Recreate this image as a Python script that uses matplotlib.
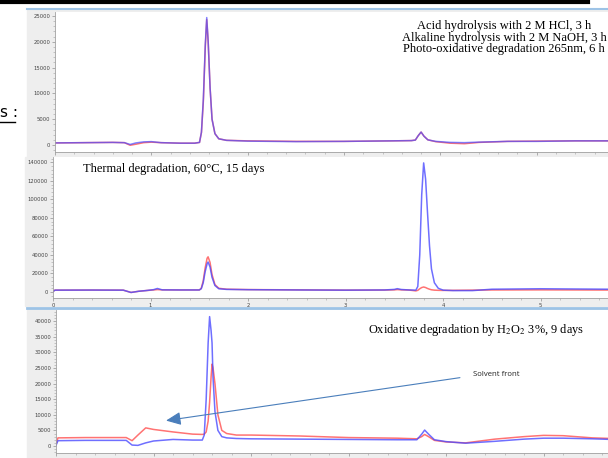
import matplotlib
matplotlib.use("Agg")
import matplotlib.pyplot as plt
from matplotlib.patches import Rectangle
from matplotlib.lines import Line2D
from matplotlib.ticker import MultipleLocator, AutoMinorLocator

W, H = 608, 458

# Panel 1: acid / alkaline / photo-oxidative
t1 = [0.0, 0.3, 0.6, 0.72, 0.78, 0.84, 0.92, 1.0, 1.1, 1.3, 1.45, 1.50, 1.52, 1.54, 1.56,
      1.575, 1.59, 1.61, 1.63, 1.66, 1.70, 1.78, 2.0, 2.5, 3.0, 3.5, 3.70, 3.74, 3.77, 3.80,
      3.83, 3.87, 3.95, 4.1, 4.25, 4.4, 4.7, 5.0, 5.4, 5.75]
blue1 = [400, 450, 500, 450, 100, 400, 600, 650, 450, 350, 350, 500, 2500, 9000, 19500,
         24700, 20000, 11000, 5000, 2200, 1200, 900, 750, 650, 700, 800, 850, 950, 1800, 2500,
         1700, 1000, 700, 500, 450, 550, 700, 700, 800, 800]
red1 = [400, 450, 500, 450, -50, 150, 450, 550, 450, 350, 350, 500, 2400, 8500, 19000,
        24300, 20000, 11000, 5000, 2200, 1200, 900, 800, 700, 700, 800, 850, 950, 1800, 2500,
        1700, 1000, 650, 350, 250, 500, 700, 750, 800, 800]

# Panel 2: thermal degradation
t2 = [0.0, 0.02, 0.4, 0.72, 0.80, 0.88, 0.95, 1.03, 1.07, 1.12, 1.3, 1.5, 1.52, 1.54, 1.56,
      1.58, 1.59, 1.61, 1.63, 1.66, 1.70, 1.78, 2.0, 2.5, 3.0, 3.4, 3.5, 3.53, 3.57, 3.65,
      3.72, 3.74, 3.76, 3.78, 3.80, 3.82, 3.84, 3.86, 3.88, 3.91, 3.95, 4.0, 4.1, 4.3, 4.5,
      5.0, 5.4, 5.7]
blue2 = [500, 2000, 2100, 2000, -500, 800, 1500, 2500, 3800, 2300, 2200, 2200, 3500, 10000, 22000,
         30500, 32400, 27000, 16000, 7000, 3500, 2800, 2500, 2200, 2000, 2200, 2800, 3600, 2700, 2200,
         2000, 6000, 40000, 105000, 139500, 122000, 85000, 50000, 25000, 10000, 4000, 2000, 1500, 1500, 3000,
         3500, 3200, 3000]
red2 = [500, 2000, 2100, 2000, -500, 800, 1500, 2200, 2600, 2300, 2200, 2200, 4000, 12000, 26000,
        36500, 38000, 32000, 19000, 8000, 4000, 3000, 2600, 2300, 2000, 2100, 2300, 2600, 2300, 2100,
        1200, 1800, 3500, 4800, 5400, 4800, 3800, 3000, 2400, 2000, 1800, 1700, 1800, 2000, 2200,
        2300, 2200, 2100]

# Panel 3: oxidative degradation (H2O2)
t3 = [0.0, 0.02, 0.3, 0.72, 0.78, 0.84, 0.92, 1.0, 1.2, 1.4, 1.5, 1.52, 1.54, 1.56, 1.575,
      1.59, 1.60, 1.61, 1.63, 1.66, 1.70, 1.75, 1.85, 2.0, 2.5, 3.0, 3.5, 3.70, 3.75, 3.78,
      3.82, 3.88, 4.0, 4.2, 4.5, 4.8, 5.0, 5.2, 5.5, 5.7]
blue3 = [200, 1700, 1800, 1800, 300, 200, 1000, 1600, 2100, 1900, 1900, 3500, 15000, 33000, 41400,
         37000, 33000, 22000, 11000, 5000, 3000, 2600, 2400, 2300, 2200, 2100, 2000, 2000, 3800, 5100,
         3800, 2000, 1400, 900, 1500, 2200, 2500, 2500, 2300, 2100]
red3 = [500, 2600, 2700, 2700, 1700, 3500, 5800, 5300, 4500, 3800, 3700, 3800, 4500, 8000, 14000,
        22000, 26200, 25000, 20000, 10000, 5000, 4000, 3500, 3500, 3200, 2700, 2500, 2300, 3000, 3700,
        3000, 1800, 1300, 1000, 2200, 3000, 3400, 3300, 2600, 2400]

BLUE = "#4b4bff"
RED = "#ff5a5a"

fig = plt.figure(figsize=(W / 100, H / 100), dpi=100)


def px_rect(x0, y0, x1, y1, **kw):
    fig.add_artist(Rectangle((x0 / W, 1 - y1 / H), (x1 - x0) / W, (y1 - y0) / H,
                             transform=fig.transFigure, **kw))


def px_line(x0, y0, x1, y1, **kw):
    fig.add_artist(Line2D([x0 / W, x1 / W], [1 - y0 / H, 1 - y1 / H],
                          transform=fig.transFigure, **kw))


# grey frames of the pasted chromatogram screenshots
px_rect(27, 10, 608, 160, color="#eeeeee", zorder=0)
px_rect(25, 157, 608, 306, color="#eeeeee", zorder=0)
px_rect(27, 309, 608, 458, color="#eeeeee", zorder=0)
px_line(27, 9, 608, 9, color="#9dc3e6", lw=1.5)
px_line(27, 307.5, 608, 307.5, color="#9dc3e6", lw=2)
px_line(0, 1.5, 588, 1.5, color="black", lw=3)

# leftover heading from the document
fig.text(0 / W, 1 - 117 / H, "s :", fontsize=11, color="black", ha="left", va="baseline")
px_line(0, 122, 15, 122, color="black", lw=1)


def make_axes(left, top, bottom, xlim, ylim, step):
    ax = fig.add_axes([left / W, 1 - bottom / H, (W - left) / W, (bottom - top) / H])
    ax.set_facecolor("white")
    ax.set_xlim(*xlim)
    ax.set_ylim(*ylim)
    for s in ["top", "right"]:
        ax.spines[s].set_visible(False)
    for s in ["left", "bottom"]:
        ax.spines[s].set_color("#a0a0a0")
        ax.spines[s].set_linewidth(0.6)
    ax.xaxis.set_major_locator(MultipleLocator(1))
    ax.xaxis.set_minor_locator(AutoMinorLocator(5))
    ax.yaxis.set_major_locator(MultipleLocator(step))
    ax.yaxis.set_minor_locator(AutoMinorLocator(5))
    ax.tick_params(which="major", length=2.5, width=0.5, color="#909090",
                   labelsize=3.8, labelcolor="#444444", pad=1)
    ax.tick_params(which="minor", length=1.5, width=0.4, color="#a0a0a0")
    return ax


ax1 = make_axes(55, 12, 152, (0, 5.74), (-1360, 25780), 5000)
ax1.plot(t1, red1, color=RED, lw=1.1, alpha=0.85)
ax1.plot(t1, blue1, color=BLUE, lw=1.1, alpha=0.7)
ax1.text(0.812, 0.945, "Acid hydrolysis with 2 M HCl, 3 h\nAlkaline hydrolysis with 2 M NaOH, 3 h\n"
         "Photo-oxidative degradation 265nm, 6 h", transform=ax1.transAxes,
         ha="center", va="top", fontsize=9, family="Liberation Serif", linespacing=0.98)

ax2 = make_axes(53, 157, 298, (0, 5.69), (-6490, 145900), 20000)
ax2.plot(t2, red2, color=RED, lw=1.1, alpha=0.85)
ax2.plot(t2, blue2, color=BLUE, lw=1.1, alpha=0.8)
ax2.text(0.054, 0.96, "Thermal degradation, 60°C, 15 days", transform=ax2.transAxes,
         ha="left", va="top", fontsize=9, family="Liberation Serif")

plt.rcParams["mathtext.fontset"] = "stix"
ax3 = make_axes(56, 310, 453, (0, 5.66), (-2240, 43520), 5000)
ax3.plot(t3, red3, color=RED, lw=1.1, alpha=0.85)
ax3.plot(t3, blue3, color=BLUE, lw=1.1, alpha=0.8)
ax3.text(0.566, 0.915, r"Oxidative degradation by H$_{\mathrm{2}}$O$_{\mathrm{2}}$ 3%, 9 days",
         transform=ax3.transAxes, ha="left", va="top", fontsize=8.9, family="Liberation Serif")
ax3.annotate("", xy=(1.10, 8000), xytext=(4.17, 22000),
             arrowprops=dict(arrowstyle="-|>,head_length=0.9,head_width=0.4",
                             color="#4a7ebb", lw=0.8))
ax3.text(4.28, 22900, "Solvent front", fontsize=5.6, ha="left", va="center",
         family="Open Sans", color="#222222")

fig.savefig("out.png", dpi=100)
